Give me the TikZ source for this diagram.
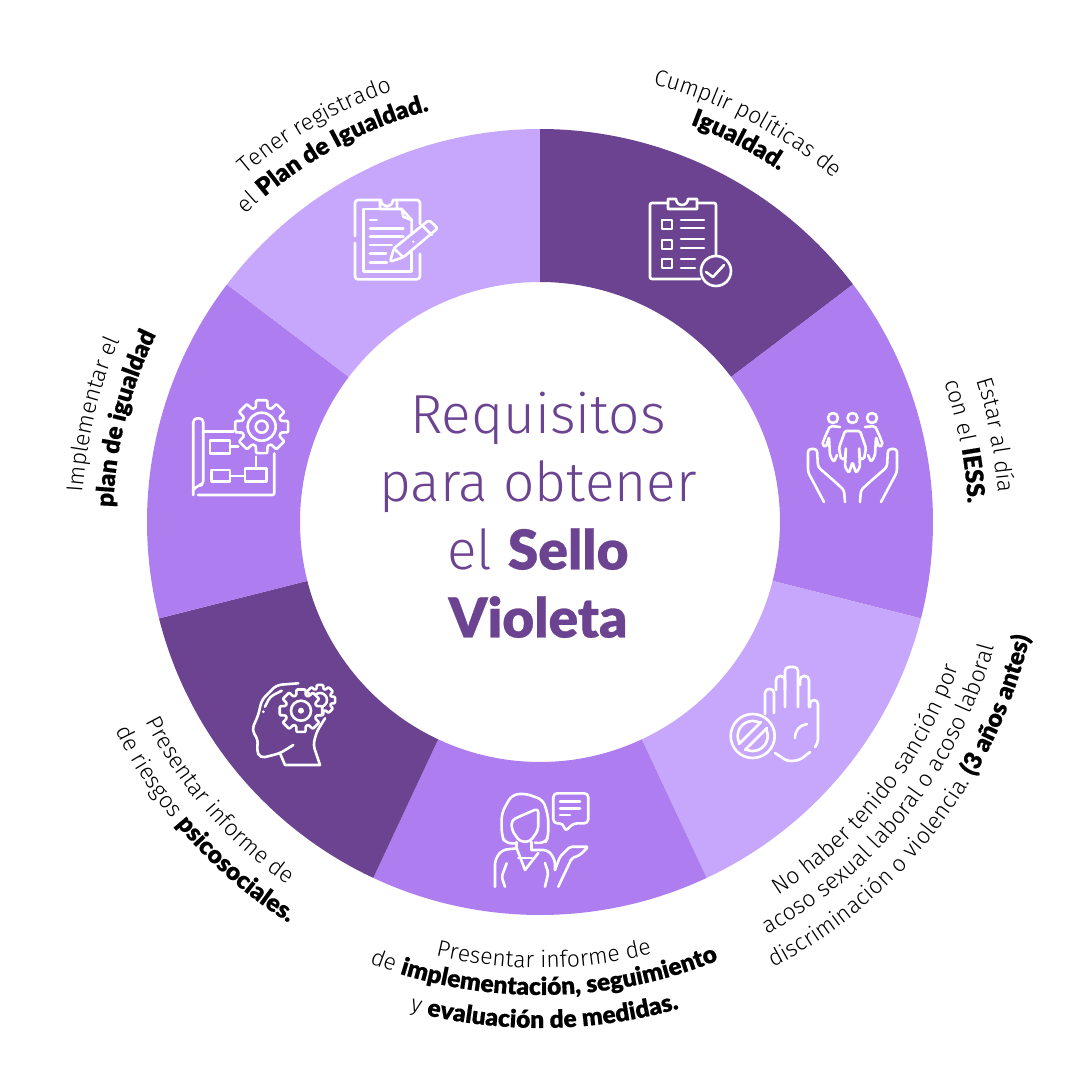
\documentclass[tikz,border=0pt]{standalone}
\usepackage{fontspec}
\usetikzlibrary{decorations.text,calc}
\newfontfamily\thinfont{Fira Sans Light}
\newfontfamily\heavyfont[FakeBold=0.5]{Lato Black}
\definecolor{violetdark}{HTML}{6B4391}
\definecolor{violetmid}{HTML}{AE7DF0}
\definecolor{violetlight}{HTML}{C7A7FC}
\newcommand{\lt}{\thinfont\fontsize{23}{23}\selectfont}
\newcommand{\bk}{\heavyfont\fontsize{24.5}{24.5}\selectfont}
% etiqueta curva, lectura en sentido horario (mitad superior)
\newcommand{\cwlabel}[3]{\path[decorate, decoration={text along path, text align=center, text={#3}}]
    (#1+45:#2) arc[start angle=#1+45, end angle=#1-45, radius=#2];}
% etiqueta curva, lectura en sentido antihorario (mitad inferior)
\newcommand{\ccwlabel}[3]{\path[decorate, decoration={text along path, text align=center, text={#3}}]
    (#1-45:#2) arc[start angle=#1-45, end angle=#1+45, radius=#2];}
% engranaje: centro x, centro y, radio exterior, radio interior, relleno
\newcommand{\gearicon}[5]{\draw[rounded corners=1pt, fill=#5] ($(#1,#2)+(12:#3)$)
    \foreach \a in {0,45,...,315} { -- ($(#1,#2)+(\a+12:#3)$) -- ($(#1,#2)+(\a+17:#4)$) -- ($(#1,#2)+(\a+28:#4)$) -- ($(#1,#2)+(\a+33:#3)$)} -- cycle;}
\begin{document}
\begin{tikzpicture}[
    x=1pt, y=1pt,
    % trazo blanco de los iconos, en pixeles de la referencia
    icon/.style={shift={(-540,522)}, yscale=-1, draw=white, line width=2.6pt, line cap=round, line join=round},
    title text/.style={text=violetdark, align=center, font=\fontsize{55}{68}\selectfont}
]
    \useasboundingbox (-540,-558) rectangle (540,522);

    % --- 1. Corona de siete sectores ---
    \foreach \from/\to/\col in {90/37.2/violetdark, 37.2/-14.2/violetmid, -14.2/-64.9/violetlight,
        -64.9/-115.1/violetmid, -115.1/-165.8/violetdark, -165.8/-217.2/violetmid, -217.2/-270/violetlight} {
        \fill[\col] (\from:393) arc[start angle=\from, end angle=\to, radius=393]
            -- (\to:240) arc[start angle=\to, end angle=\from, radius=240] -- cycle;
    }

    % --- 2. Titulo central ---
    \node[title text] (title) at (-2,7) {\thinfont Requisitos\\
        \thinfont para obtener\\ \thinfont el \heavyfont Sello\\ \heavyfont Violeta};

    % --- 3. Etiquetas curvas ---
    \cwlabel{62.5}{452}{|\lt|Cumplir políticas de}
    \cwlabel{62.5}{425}{|\bk|Igualdad.}
    \cwlabel{10.8}{459}{|\lt|Estar al día}
    \cwlabel{10.8}{428}{|\lt|con el |\bk|IESS.}
    \ccwlabel{-38.3}{443}{|\lt|No haber tenido sanción por}
    \ccwlabel{-38.2}{471}{|\lt|acoso sexual laboral o acoso laboral}
    \ccwlabel{-37.8}{503}{|\lt|discriminación o violencia. |\bk|(3 años antes)}
    \ccwlabel{270.5}{446}{|\lt|Presentar informe de}
    \ccwlabel{270.5}{473}{|\lt|de |\bk|implementación, seguimiento}
    \ccwlabel{270.5}{506}{|\lt|y |\bk|evaluación de medidas.}
    \ccwlabel{221}{442}{|\lt|Presentar informe de}
    \ccwlabel{222}{473}{|\lt|de riesgos |\bk|psicosociales.}
    \cwlabel{166.5}{458}{|\lt|Implementar el}
    \cwlabel{166}{427}{|\bk|plan de igualdad}
    \cwlabel{119.6}{455}{|\lt|Tener registrado}
    \cwlabel{119.4}{426}{|\lt|el |\bk|Plan de Igualdad.}

    % --- 4. Icono: lista con visto ---
    \begin{scope}[icon]
        \draw[rounded corners=2pt] (716,256) -- (716,203) -- (697,203);
        \draw[rounded corners=2pt] (668,203) -- (650,203) -- (650,279) -- (700,279);
        \draw (668,199) -- (676,199) arc[start angle=180, end angle=0, radius=6] -- (697,199) -- (697,209) -- (668,209) -- cycle;
        \draw (716,271) circle[radius=15];
        \draw (706,272) -- (713,277) -- (724,265);
        \foreach \y in {220,240,259} { \draw (662,\y) rectangle (672,\y+9); }
        \foreach \y in {220,228,239,248} { \draw (681,\y) -- (704,\y); }
        \foreach \y in {259,268} { \draw (681,\y) -- (695,\y); }
    \end{scope}

    % --- 5. Icono: personas sobre manos ---
    \begin{scope}[icon]
        \foreach \x in {833,852.5,872} { \draw (\x,418) circle[radius=5]; }
        \draw[rounded corners=1.5pt] (845,431) -- (860,431) -- (866,448) -- (864,459) -- (860,459) -- (859,447) -- (860,467) -- (856,473) -- (852.5,462) -- (849,473) -- (845,467) -- (846,447) -- (845,459) -- (841,459) -- (839,448) -- cycle;
        \draw[rounded corners=2pt] (840,427) -- (830,426) -- (825,437) -- (822,445) -- (826,447) -- (829,437) -- (830,456) -- (834,462) -- (837,455);
        \draw[rounded corners=2pt] (865,427) -- (875,426) -- (880,437) -- (883,445) -- (879,447) -- (876,437) -- (875,456) -- (871,462) -- (868,455);
        \draw[rounded corners=3pt] (824,502) -- (808,472) -- (808,449) -- (817,449) -- (818,467) -- (833,480) -- (844,490) -- (845,502);
        \draw[rounded corners=3pt] (881,502) -- (897,472) -- (897,449) -- (888,449) -- (887,467) -- (872,480) -- (861,490) -- (860,502);
    \end{scope}

    % --- 6. Icono: mano y prohibido ---
    \begin{scope}[icon]
        \draw[rounded corners=4pt] (775,753) -- (788,761.5) -- (800,760) -- (810,752);
        \draw[rounded corners=4pt] (815,747) -- (818,743) -- (818,700) -- (810,700) -- (810,707);
        \draw[rounded corners=4pt] (765,714) -- (765,689) -- (774,689) -- (774,713);
        \draw[rounded corners=4pt] (776,690) -- (776,676) -- (785,676) -- (785,707);
        \draw[rounded corners=4pt] (785,690) -- (785,667) -- (798,667) -- (798,707);
        \draw[rounded corners=4pt] (800,685) -- (800,676) -- (809,676) -- (809,707);
        \draw (795,738) .. controls (795,730) and (800,725) .. (807,724);
        \draw (752.7,736) circle[radius=22];
        \draw (752.7,736) circle[radius=15];
        \draw[violetlight, line width=7pt, line cap=butt] (741,748) -- (765,724);
        \draw (739,744) -- (761,722);
        \draw (745,750) -- (767,728);
    \end{scope}

    % --- 7. Icono: mujer con mensaje ---
    \begin{scope}[icon]
        \draw[rounded corners=6pt] (516.7,843.3) -- (505,843.3) -- (501.7,835) -- (501.7,813) -- (511.7,795) -- (525,793.3) -- (543.3,800) -- (548.3,816.7) -- (548.3,836.7) -- (545,843.3) -- (535,842.7);
        \draw[rounded corners=4pt] (511.7,820) -- (538.3,808.3) -- (538.3,830) -- (530,841.7) -- (520,841.7) -- (511.7,830) -- cycle;
        \draw (516.7,842) -- (516.7,848.3);
        \draw (531.7,842) -- (531.7,850);
        \draw[rounded corners=5pt] (495,886.7) -- (495,860) -- (501.7,850) -- (516.7,848.3);
        \draw[rounded corners=5pt] (531.7,850) -- (548.3,850) -- (555,860) -- (555,870);
        \draw (516.7,848.3) -- (525,870) -- (538.3,853);
        \draw (518.3,858) -- (531.7,858);
        \draw[rounded corners=2pt] (505,886.7) -- (501.7,876.7) -- (506.7,863.3);
        \draw[rounded corners=2pt] (545,886.7) -- (548.3,873) -- (545,863);
        \draw[rounded corners=2pt] (555,870) -- (560,856.7) -- (570,846.7) -- (588.3,846.7) -- (580,855) -- (571.7,858.3) -- (558.3,886.7);
        \draw[rounded corners=4pt] (563.3,823.3) -- (553.3,823.3) -- (553.3,793.3) -- (588.3,793.3) -- (588.3,823.3) -- (573.3,823.3) -- (565,831.7) -- cycle;
        \draw (560,801.7) -- (580,801.7);
        \draw (560,808.3) -- (580,808.3);
        \draw (560,815) -- (570,815);
    \end{scope}

    % --- 8. Icono: cabeza con engranajes ---
    \begin{scope}[icon]
        \draw[rounded corners=5pt] (298.3,683.3) -- (276.7,685) -- (261.7,700) -- (258.3,715) -- (251.7,730) -- (258.3,740) -- (256.7,750) -- (260,758.3) -- (280,753.3) -- (293.3,745);
        \draw (280,753.3) -- (285,765) -- (320,765);
        \draw[rounded corners=4pt] (320,765) -- (313.3,745) -- (316.7,731.7) -- (325,718.3);
        \draw[rounded corners=4pt] (281.7,690.7) -- (270,696.7) -- (265,706.7);
        \fill[white] (263.3,711.7) circle[radius=1.5];
        \gearicon{320}{700}{15.5}{11.5}{violetdark}
        \draw (320,700) circle[radius=7];
        \gearicon{301}{710.7}{21.7}{16}{violetdark}
        \draw (301,710.7) circle[radius=10];
        \fill[white] (301,710.7) circle[radius=3];
    \end{scope}

    % --- 9. Icono: plano con engranaje ---
    \begin{scope}[icon]
        \draw[rounded corners=4pt] (193.3,495) -- (193.3,418.3) -- (203.3,418.3) -- (203.3,485) -- (198,485) -- (193.3,490);
        \draw[rounded corners=2pt] (198,495) -- (274.3,495) -- (274.3,453.3);
        \draw (203.3,431.7) -- (233.3,431.7);
        \draw (210,440.7) rectangle (230,453.3);
        \draw (230,446.7) -- (238.3,446.7);
        \draw (211.7,470) rectangle (230,481.7);
        \draw (230,476) -- (245,476);
        \draw (245,468.3) rectangle (266.7,481.7);
        \draw (256,468.3) -- (256,456.7);
        \gearicon{261.7}{426.7}{27}{20}{violetmid}
        \draw (261.7,426.7) circle[radius=14];
        \draw (261.7,426.7) circle[radius=6];
    \end{scope}

    % --- 10. Icono: portapapeles con lapiz ---
    \begin{scope}[icon]
        \draw[rounded corners=3pt] (380,200) -- (355,200) -- (355,236);
        \draw[rounded corners=3pt] (355,243) -- (355,279.3) -- (420,279.3) -- (420,254);
        \draw[rounded corners=3pt] (397,200) -- (420,200) -- (420,224);
        \draw (380,200) -- (381,200) arc[start angle=180, end angle=0, radius=6] -- (397,200) -- (397,209) -- (380,209) -- cycle;
        \draw (380,209) -- (363.3,209) -- (363.3,271.7) -- (411.7,271.7) -- (411.7,252);
        \draw (397,209) -- (401.7,209) -- (411.7,220) -- (411.7,233);
        \draw (401.7,209) -- (403.3,216.7) -- (411.7,220);
        \draw (370,220) -- (376.7,220);
        \foreach \y/\e in {228.3/403.3, 236.7/403.3, 245/391.7, 253.3/386, 262.3/387} { \draw (370,\y) -- (\e,\y); }
        \draw[rounded corners=2pt] (390,261.7) -- (394,248.3) -- (429,220) -- (437.7,228.3) -- (403.3,257.3) -- cycle;
        \draw (421.7,225) -- (431.7,235);
        \draw (394,248.3) -- (403.3,257.3);
        \fill[white] (413.3,241.7) circle[radius=1.3];
    \end{scope}

\end{tikzpicture}
\end{document}
